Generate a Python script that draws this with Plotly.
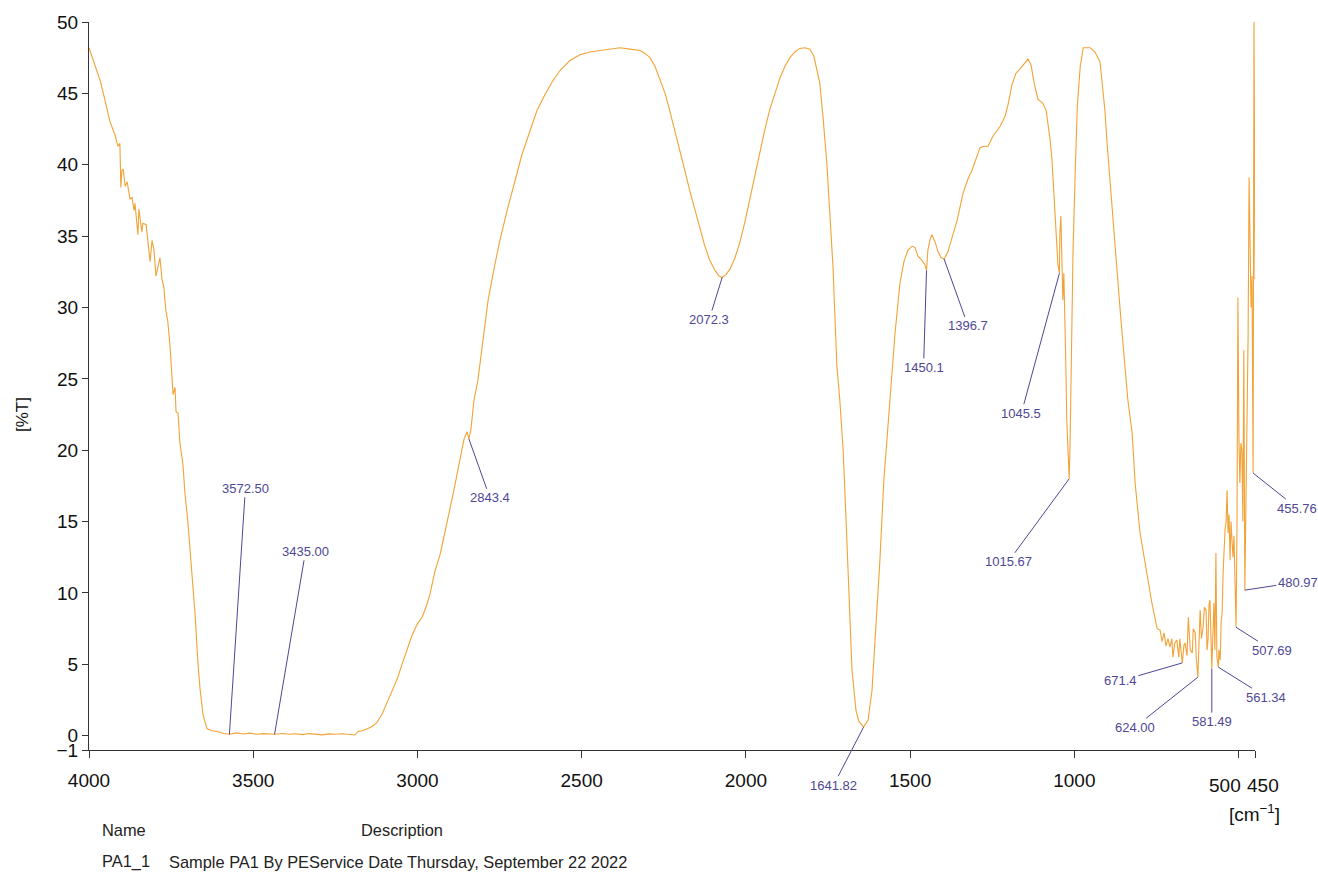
import plotly.graph_objects as go

# ---------------- data ----------------
wavenumber = [
    4000, 3966, 3951, 3936, 3921, 3912, 3906, 3903, 3900, 3896, 3890, 3884, 3875, 3869, 3863, 3860,
    3851, 3848, 3839, 3836, 3826, 3820, 3814, 3808, 3802, 3796, 3790, 3784, 3778, 3772, 3766, 3760,
    3753, 3747, 3744, 3738, 3735, 3729, 3723, 3714, 3708, 3699, 3693, 3686, 3677, 3668, 3662, 3653,
    3641, 3626, 3610, 3590, 3572.5, 3550, 3530, 3510, 3490, 3470, 3450, 3435, 3410, 3390, 3370, 3350,
    3330, 3310, 3290, 3270, 3250, 3230, 3210, 3190, 3181, 3169, 3154, 3138, 3123, 3108, 3093, 3077,
    3062, 3047, 3032, 3017, 3001, 2986, 2974, 2962, 2947, 2931, 2916, 2901, 2889, 2877, 2867, 2858,
    2849, 2843.4, 2837, 2828, 2816, 2800, 2785, 2767, 2749, 2727, 2703, 2682, 2657, 2636, 2612, 2590,
    2566, 2536, 2505, 2475, 2444, 2414, 2383, 2353, 2322, 2307, 2292, 2277, 2262, 2246, 2231, 2216,
    2201, 2186, 2170, 2155, 2140, 2125, 2110, 2094, 2082, 2072.3, 2061, 2048, 2033, 2018, 2003, 1988,
    1972, 1957, 1942, 1927, 1911, 1896, 1881, 1866, 1851, 1836, 1820, 1805, 1793, 1781, 1775, 1765,
    1753, 1744, 1735, 1729, 1723, 1714, 1704, 1695, 1686, 1677, 1665, 1656, 1641.82, 1628, 1616, 1604,
    1592, 1580, 1567, 1558, 1546, 1531, 1519, 1507, 1494, 1485, 1476, 1464, 1455, 1450.1, 1446, 1440,
    1434, 1424, 1415, 1406, 1396.7, 1385, 1373, 1357, 1339, 1324, 1312, 1300, 1287, 1275, 1263, 1248,
    1226, 1211, 1202, 1190, 1178, 1166, 1153, 1141, 1132, 1123, 1111, 1096, 1086, 1080, 1074, 1068,
    1062, 1056, 1050, 1045.5, 1044, 1041, 1038, 1035, 1032, 1029, 1026, 1023, 1015.67, 1013, 1010, 1007,
    1004, 997, 991, 982, 973, 965, 952, 937, 922, 913, 907, 901, 892, 882, 876, 867,
    858, 849, 840, 837, 824, 815, 800, 788, 779, 770, 764, 755, 748, 739, 733, 727,
    721, 715, 709, 703, 700, 694, 688, 682, 679, 671.4, 666, 663, 657, 653, 647, 641,
    638, 632, 629, 624.0, 620, 617, 613, 608, 604, 599, 596, 593, 590, 587, 581.49, 578,
    575, 572, 569, 566, 561.34, 560, 556, 553, 550, 547, 544, 541, 538, 535, 532, 529,
    526, 523, 520, 517, 514, 511, 507.69, 505, 502, 499, 496, 493, 490, 487, 484, 480.97,
    477, 474, 471, 468, 465, 462, 459, 455.76, 453, 450,
]
transmittance = [
    48.2, 45.9, 44.5, 43.0, 42.1, 41.3, 41.5, 38.4, 39.6, 39.7, 38.5, 38.8, 37.6, 37.7, 36.8, 37.3,
    35.1, 36.9, 35.3, 35.9, 35.8, 34.6, 33.2, 34.7, 34.0, 32.2, 33.0, 33.5, 32.0, 31.4, 29.8, 29.0,
    27.2, 25.0, 23.9, 24.4, 22.7, 22.6, 20.5, 19.0, 17.0, 15.0, 13.2, 11.5, 8.5, 5.0, 3.3, 1.5,
    0.5, 0.35, 0.3, 0.15, 0.1, 0.2, 0.12, 0.18, 0.1, 0.15, 0.12, 0.1, 0.16, 0.1, 0.14, 0.08,
    0.15, 0.12, 0.06, 0.13, 0.1, 0.14, 0.08, 0.05, 0.3, 0.35, 0.47, 0.65, 0.93, 1.5, 2.3, 3.1,
    3.95, 5.0, 6.0, 7.0, 7.8, 8.3, 9.0, 9.9, 11.5, 12.7, 14.3, 15.8, 17.2, 18.6, 19.8, 20.8,
    21.3, 20.8, 21.5, 23.5, 24.9, 27.8, 30.5, 32.7, 34.7, 36.8, 38.9, 40.7, 42.4, 43.8, 44.9, 45.8,
    46.6, 47.3, 47.7, 47.9, 48.0, 48.1, 48.2, 48.1, 48.0, 47.8, 47.5, 46.9, 46.0, 45.0, 43.7, 42.4,
    41.0, 39.6, 38.1, 36.8, 35.5, 34.3, 33.3, 32.6, 32.2, 32.1, 32.3, 32.7, 33.5, 34.6, 36.0, 37.6,
    39.3, 41.0, 42.5, 43.9, 45.1, 46.1, 46.9, 47.5, 47.9, 48.15, 48.2, 48.1, 47.6, 46.2, 45.7, 43.3,
    39.9, 36.4, 32.9, 29.4, 25.9, 23.5, 20.0, 15.1, 9.5, 4.6, 1.8, 1.0, 0.6, 1.1, 3.2, 7.4,
    12.3, 17.9, 22.1, 24.5, 28.2, 31.7, 33.2, 34.0, 34.3, 34.2, 33.6, 33.3, 33.0, 32.6, 34.0, 34.7,
    35.1, 34.6, 33.9, 33.5, 33.4, 33.9, 34.8, 36.1, 38.0, 39.0, 39.6, 40.4, 41.2, 41.3, 41.3, 42.0,
    42.7, 43.4, 44.2, 45.6, 46.4, 46.7, 47.1, 47.4, 47.0, 45.8, 44.6, 44.3, 43.8, 42.9, 41.8, 40.3,
    38.0, 35.0, 33.0, 32.4, 35.2, 36.4, 33.0, 30.5, 32.4, 30.0, 26.0, 22.0, 18.0, 20.5, 25.5, 29.0,
    34.0, 39.8, 44.1, 46.9, 48.2, 48.2, 48.2, 47.9, 47.2, 45.2, 43.8, 41.7, 38.9, 36.3, 34.0, 31.7,
    29.1, 26.8, 24.0, 23.5, 21.2, 17.7, 14.2, 12.5, 11.4, 10.0, 9.3, 8.3, 7.5, 7.4, 6.6, 7.2,
    6.3, 6.8, 6.2, 6.8, 5.5, 6.5, 6.7, 5.5, 6.8, 5.1, 6.4, 6.5, 5.6, 8.3, 6.0, 5.8,
    7.5, 7.2, 5.5, 4.1, 7.0, 8.8, 6.8, 7.6, 9.0, 8.8, 6.0, 6.7, 9.2, 9.5, 4.7, 8.0,
    9.3, 6.0, 12.8, 5.5, 4.8, 6.0, 5.3, 8.0, 8.6, 11.5, 13.7, 14.5, 15.0, 17.2, 14.2, 15.5,
    12.3, 15.0, 13.7, 12.5, 14.0, 10.5, 7.6, 14.0, 30.7, 21.0, 17.7, 20.5, 20.0, 15.0, 27.0, 10.2,
    18.0, 21.2, 28.0, 39.1, 33.0, 30.0, 32.2, 18.4, 50.0, 32.0,
]

peak_labels = ["3572.50", "3435.00", "2843.4", "2072.3", "1641.82", "1450.1", "1396.7", "1045.5",
               "1015.67", "671.4", "624.00", "581.49", "561.34", "507.69", "480.97", "455.76"]
peak_wn = [3572.50, 3435.00, 2843.4, 2072.3, 1641.82, 1450.1, 1396.7, 1045.5,
           1015.67, 671.4, 624.00, 581.49, 561.34, 507.69, 480.97, 455.76]
peak_T = [0.1, 0.1, 20.8, 32.1, 0.6, 32.6, 33.4, 32.4,
          18.0, 5.1, 4.1, 4.7, 4.8, 7.6, 10.2, 18.4]

x_ticks = [4000, 3500, 3000, 2500, 2000, 1500, 1000, 500, 450]
y_ticks = [-1, 0, 5, 10, 15, 20, 25, 30, 35, 40, 45, 50]
y_ticktext = ["\u22121"] + [str(v) for v in y_ticks[1:]]

# label offsets (pixels, from peak point to label centre)
label_offsets = [(16, -246), (31, -183), (21, 59), (-13, 42), (-30, 58), (-3, 97), (24, 67), (-38, 140),
                 (-61, 83), (-62, 18), (-63, 50), (0, 53), (48, 30), (36, 23), (53, -8), (44, 35)]

W, H = 1318, 877
L, R, T, B = 89, 63, 22, 127
PW, PH = W - L - R, H - T - B

def px(x):
    return (x - L) / PW

def py(y):
    return (H - B - y) / PH

ORANGE = "#f2a236"
LABEL = "#4e4796"
SANS = "Liberation Sans, Arial, sans-serif"

fig = go.Figure()
fig.add_trace(go.Scatter(x=wavenumber, y=transmittance, mode="lines",
                         line=dict(color=ORANGE, width=1.1), hoverinfo="x+y",
                         showlegend=False))

for lab, wn, t, (ax, ay) in zip(peak_labels, peak_wn, peak_T, label_offsets):
    fig.add_annotation(x=wn, y=t, text=lab, showarrow=True, arrowhead=0, arrowwidth=1,
                       arrowcolor=LABEL, ax=ax, ay=ay, standoff=0,
                       font=dict(family=SANS, size=13, color=LABEL))

# the last two tick labels are nudged apart, as in the reference
x_ticktext = [str(v) if v not in (500, 450) else "" for v in x_ticks]
fig.update_xaxes(range=[4000, 450], tickmode="array", tickvals=x_ticks,
                 ticktext=x_ticktext, tickangle=0, showgrid=False, zeroline=False,
                 showline=True, linecolor="#333333", linewidth=1, ticks="outside",
                 ticklen=7, tickcolor="#333333", tickfont=dict(family=SANS, size=19, color="#111111"),
                 ticklabelstandoff=6, mirror=False)
fig.update_yaxes(range=[-1, 50], tickmode="array", tickvals=y_ticks, ticktext=y_ticktext,
                 showgrid=False, zeroline=False, showline=True, linecolor="#333333", linewidth=1,
                 ticks="outside", ticklen=6, tickcolor="#333333",
                 tickfont=dict(family=SANS, size=19, color="#111111"), mirror=False)

for v, shift in ((500, -14), (450, 8)):
    fig.add_annotation(x=v, xref="x", yref="paper", y=py(785), text=str(v), showarrow=False,
                       xanchor="center", yanchor="middle", xshift=shift,
                       font=dict(family=SANS, size=19, color="#111111"))

# axis titles and footer text
fig.add_annotation(xref="paper", yref="paper", x=px(22), y=py(415), text="[%T]", showarrow=False,
                   textangle=-90, xanchor="center", yanchor="middle",
                   font=dict(family=SANS, size=17, color="#111111"))
fig.add_annotation(xref="paper", yref="paper", x=px(1254), y=py(813), text="[cm<sup>\u22121</sup>]",
                   showarrow=False, xanchor="center", yanchor="middle",
                   font=dict(family=SANS, size=19, color="#111111"))
footer = [("Name", 100, 830), ("Description", 359, 830), ("PA1_1", 100, 862),
          ("Sample PA1 By PEService Date Thursday, September 22 2022", 167, 862)]
for txt, fx, fy in footer:
    fig.add_annotation(xref="paper", yref="paper", x=px(fx), y=py(fy), text=txt, showarrow=False,
                       xanchor="left", yanchor="middle",
                       font=dict(family=SANS, size=16.4, color="#222222"))

fig.update_layout(width=W, height=H, margin=dict(l=L, r=R, t=T, b=B),
                  paper_bgcolor="white", plot_bgcolor="white")

fig.write_html("out.html", config={"displayModeBar": False},
               post_script="document.body.style.margin='0px';")
